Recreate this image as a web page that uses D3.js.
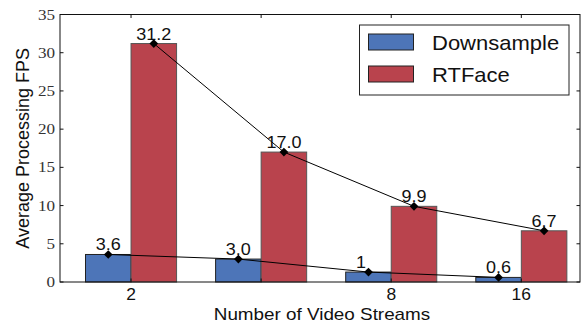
<!DOCTYPE html>
<html>
<head>
<meta charset="utf-8">
<script src="https://cdn.jsdelivr.net/npm/d3@7"></script>
<style>
  html, body { margin: 0; padding: 0; background: #fff; }
  svg { display: block; }
</style>
</head>
<body>
<svg id="chart" width="583" height="327"></svg>
<script>
// Stream counts and average processing FPS per method
const categories = ["2", "4", "8", "16"];
const tickLabels = ["2", "", "8", "16"];
const downsample = [3.6, 3.0, 1.3, 0.6];
const rtface = [31.2, 17.0, 9.9, 6.7];
const downsampleLabels = ["3.6", "3.0", "1", "0.6"];
const rtfaceLabels = ["31.2", "17.0", "9.9", "6.7"];
const yTicks = [0, 5, 10, 15, 20, 25, 30, 35];
const seriesNames = ["Downsample", "RTFace"];

const colors = { Downsample: "#4d75b8", RTFace: "#b9434d" };
const strokes = { Downsample: "#222", RTFace: "#555" };

const svg = d3.select("#chart");
const plot = { left: 60, right: 580, top: 14.5, bottom: 282 };
const barW = 0.35;

const x = d3.scaleLinear().domain([-0.546, 3.451]).range([plot.left, plot.right]);
const y = d3.scaleLinear().domain([0, 35]).range([plot.bottom, plot.top]);
const idx = categories.map((_, i) => i);

// Text helper: sans glyphs are drawn slightly wide
function stretchedText(g, px, py, str, size, sx, anchor, family) {
  return g.append("text")
    .attr("transform", `translate(${px},${py}) scale(${sx},1)`)
    .attr("text-anchor", anchor || "middle")
    .style("font-family", family || "'Liberation Sans', Arial, sans-serif")
    .style("font-size", size + "px")
    .text(str);
}

// Bars
const series = [
  { name: "Downsample", values: downsample, labels: downsampleLabels, off: -barW },
  { name: "RTFace", values: rtface, labels: rtfaceLabels, off: 0 }
];

series.forEach(s => {
  svg.append("g").selectAll("rect")
    .data(idx)
    .join("rect")
    .attr("x", i => x(i + s.off))
    .attr("width", i => x(i + s.off + barW) - x(i + s.off))
    .attr("y", i => y(s.values[i]))
    .attr("height", i => y(0) - y(s.values[i]))
    .attr("fill", colors[s.name])
    .attr("stroke", strokes[s.name])
    .attr("stroke-width", 1);
});

// Frame and inward ticks
const frame = svg.append("g").attr("stroke", "#111").attr("stroke-width", 1).attr("fill", "none");
frame.append("rect")
  .attr("x", plot.left).attr("y", plot.top)
  .attr("width", plot.right - plot.left).attr("height", plot.bottom - plot.top);

yTicks.forEach(t => {
  frame.append("line").attr("x1", plot.left).attr("x2", plot.left + 3.5).attr("y1", y(t)).attr("y2", y(t));
  frame.append("line").attr("x1", plot.right).attr("x2", plot.right - 3.5).attr("y1", y(t)).attr("y2", y(t));
});
idx.forEach(i => {
  frame.append("line").attr("x1", x(i)).attr("x2", x(i)).attr("y1", plot.top).attr("y2", plot.top + 3.5);
  frame.append("line").attr("x1", x(i)).attr("x2", x(i)).attr("y1", plot.bottom).attr("y2", plot.bottom - 3.5);
});

// Y tick labels
const yl = svg.append("g").attr("fill", "#333");
yTicks.forEach(t => {
  stretchedText(yl, 55, y(t) + 5, String(t), 14.5, 1.18, "end", "'Liberation Serif', 'Times New Roman', serif");
});

// X tick labels
const xl = svg.append("g").attr("fill", "#111");
idx.forEach(i => {
  if (tickLabels[i]) stretchedText(xl, x(i), 299.5, tickLabels[i], 16.3, 1.07, "middle");
});

// Axis titles
stretchedText(svg.append("g").attr("fill", "#111"), (plot.left + plot.right) / 2 + 2, 320, "Number of Video Streams", 16.4, 1.15, "middle");
svg.append("text")
  .attr("transform", `translate(28.5,${(plot.top + plot.bottom) / 2 + 0}) rotate(-90)`)
  .attr("text-anchor", "middle")
  .attr("fill", "#111")
  .style("font-family", "'Liberation Sans', Arial, sans-serif")
  .style("font-size", "18px")
  .text("Average Processing FPS");

// Trend lines with diamond markers and value labels
const line = d3.line().x(d => d[0]).y(d => d[1]);
const diamond = d3.symbol().type(d3.symbolSquare).size(38);

// Width of a three-character value label, used to left-align shorter labels
const probe = svg.append("text")
  .style("font-family", "'Liberation Sans', Arial, sans-serif")
  .style("font-size", "17px").text("0.0");
const probeW = probe.node().getComputedTextLength() * 1.06;
probe.remove();

series.forEach(s => {
  const pts = idx.map(i => [x(i + s.off + barW / 2), y(s.values[i])]);
  svg.append("path")
    .attr("d", line(pts))
    .attr("fill", "none")
    .attr("stroke", "#000")
    .attr("stroke-width", 1);
  svg.append("g").selectAll("path")
    .data(pts)
    .join("path")
    .attr("d", diamond)
    .attr("transform", d => `translate(${d[0]},${d[1]}) rotate(45)`)
    .attr("fill", "#000");
  const lg = svg.append("g").attr("fill", "#111");
  pts.forEach((p, i) => {
    const lbl = s.labels[i];
    const w = lbl.length >= 3 ? 0 : probeW / 2;
    if (lbl.length >= 3) {
      stretchedText(lg, p[0], p[1] - 4, lbl, 17, 1.06, "middle");
    } else {
      stretchedText(lg, p[0] - w, p[1] - 4, lbl, 17, 1.06, "start");
    }
  });
});

// Legend
const legend = svg.append("g");
legend.append("rect")
  .attr("x", 359.5).attr("y", 25).attr("width", 209.5).attr("height", 70)
  .attr("fill", "#fff").attr("stroke", "#222").attr("stroke-width", 1);
seriesNames.forEach((name, k) => {
  const ty = 34 + k * 32;
  legend.append("rect")
    .attr("x", 368.5).attr("y", ty).attr("width", 45).attr("height", 16)
    .attr("fill", colors[name]).attr("stroke", "#222").attr("stroke-width", 1);
  stretchedText(legend.append("g").attr("fill", "#111"), 432, ty + 16, name, 20, 1.1, "start");
});
</script>
</body>
</html>
